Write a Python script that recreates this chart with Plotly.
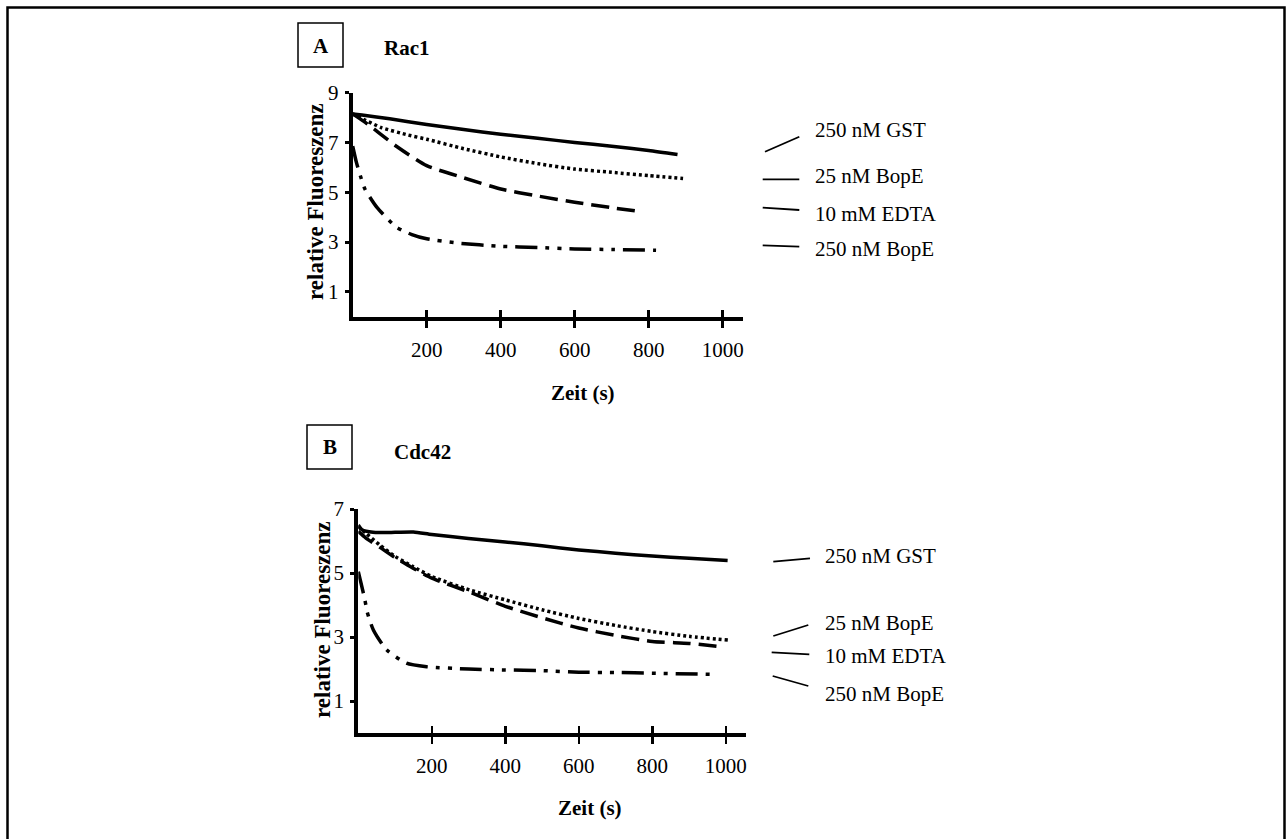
import plotly.graph_objects as go

W, H = 1286, 839
FONT = "Liberation Serif, Times New Roman, serif"

# ---------------- data ----------------
labels = ["250 nM GST", "25 nM BopE", "10 mM EDTA", "250 nM BopE"]
x_ticks = [200, 400, 600, 800, 1000]
yticks_a = [1, 3, 5, 7, 9]
yticks_b = [1, 3, 5, 7]

# Panel A - Rac1
a_gst_x = [0, 25, 100, 200, 300, 400, 500, 600, 700, 800, 878]
a_gst_y = [8.15, 8.1, 7.95, 7.72, 7.52, 7.33, 7.17, 7.0, 6.85, 6.68, 6.52]
a_b25_x = [0, 20, 77, 150, 200, 300, 400, 500, 600, 700, 800, 893]
a_b25_y = [8.15, 8.0, 7.6, 7.3, 7.13, 6.75, 6.42, 6.15, 5.93, 5.8, 5.67, 5.55]
a_edta_x = [0, 30, 70, 118, 200, 300, 400, 500, 600, 700, 765]
a_edta_y = [8.15, 7.85, 7.4, 6.85, 6.07, 5.58, 5.13, 4.85, 4.6, 4.38, 4.25]
a_b250_x = [0, 10, 22, 33, 65, 118, 160, 200, 283, 400, 500, 600, 700, 820]
a_b250_y = [6.85, 6.2, 5.6, 5.13, 4.4, 3.6, 3.3, 3.13, 2.96, 2.83, 2.78, 2.72, 2.7, 2.67]

# Panel B - Cdc42
b_gst_x = [0, 10, 40, 100, 150, 200, 300, 400, 500, 600, 700, 800, 900, 1005]
b_gst_y = [6.5, 6.35, 6.27, 6.27, 6.28, 6.2, 6.08, 5.97, 5.85, 5.72, 5.62, 5.53, 5.46, 5.39]
b_b25_x = [0, 20, 59, 100, 149, 200, 303, 400, 500, 600, 700, 800, 900, 1008]
b_b25_y = [6.45, 6.25, 5.87, 5.52, 5.2, 4.89, 4.47, 4.16, 3.85, 3.58, 3.36, 3.17, 3.02, 2.9]
b_edta_x = [0, 20, 59, 100, 149, 200, 303, 400, 500, 600, 700, 800, 900, 982]
b_edta_y = [6.3, 6.1, 5.8, 5.48, 5.15, 4.84, 4.4, 3.96, 3.6, 3.28, 3.05, 2.86, 2.8, 2.7]
b_b250_x = [0, 5, 18, 24, 41, 77, 131, 186, 300, 400, 500, 600, 700, 800, 968]
b_b250_y = [5.04, 4.8, 4.16, 3.79, 3.22, 2.6, 2.18, 2.07, 2.0, 1.97, 1.95, 1.9, 1.89, 1.87, 1.83]

# ---------------- helpers ----------------
def px(x):
    return x / W

def py(y):
    return 1 - y / H

styles = [
    dict(width=3.5, dash="solid"),
    dict(width=3.5, dash="3px,3px"),
    dict(width=3.5, dash="18px,8px"),
    dict(width=3.5, dash="22px,8px,4px,8px,4px,8px"),
]

fig = go.Figure()

def add_panel(series, xa, ya):
    for (xs, ys), st in zip(series, styles):
        fig.add_trace(go.Scatter(x=xs, y=ys, mode="lines", xaxis=xa, yaxis=ya,
                                 line=dict(color="black", shape="spline",
                                           smoothing=0.6, **st),
                                 showlegend=False, hoverinfo="skip"))

add_panel([(a_gst_x, a_gst_y), (a_b25_x, a_b25_y), (a_edta_x, a_edta_y), (a_b250_x, a_b250_y)], "x", "y")
add_panel([(b_gst_x, b_gst_y), (b_b25_x, b_b25_y), (b_edta_x, b_edta_y), (b_b250_x, b_b250_y)], "x2", "y2")
# empty traces so the overlay tick axes are drawn
fig.add_trace(go.Scatter(x=[], y=[], xaxis="x3", yaxis="y", showlegend=False))
fig.add_trace(go.Scatter(x=[], y=[], xaxis="x4", yaxis="y2", showlegend=False))

tickfont = dict(family=FONT, size=21, color="black")
xr = [0, 1055]

def xaxis(dom, anchor):
    return dict(domain=dom, anchor=anchor, range=xr, showline=True, linewidth=4,
                linecolor="black", ticks="outside", ticklen=7, tickwidth=2.5,
                tickcolor="black", tickvals=x_ticks, tickfont=tickfont,
                showgrid=False, zeroline=False, ticklabelstandoff=4,
                fixedrange=True, automargin=False)

def xover(dom, anchor, over):
    return dict(domain=dom, anchor=anchor, overlaying=over, range=xr, showline=False,
                ticks="inside", ticklen=7, tickwidth=2.5, tickcolor="black",
                tickvals=x_ticks, showticklabels=False, showgrid=False,
                zeroline=False, fixedrange=True, automargin=False)

def yaxis(dom, anchor, rng, tv):
    return dict(domain=dom, anchor=anchor, range=rng, showline=True, linewidth=4,
                linecolor="black", ticks="outside", ticklen=4, tickwidth=3,
                tickcolor="black", tickvals=tv, tickfont=tickfont,
                showgrid=False, zeroline=False, ticklabelstandoff=2,
                fixedrange=True, automargin=False)

domA_x = [px(352.7), px(743)]
domA_y = [py(316.7), py(92.7)]
domB_x = [px(358.3), px(746)]
domB_y = [py(733), py(509)]

fig.update_layout(
    width=W, height=H,
    margin=dict(l=0, r=0, t=0, b=0, pad=0, autoexpand=False),
    paper_bgcolor="white", plot_bgcolor="white",
    xaxis=xaxis(domA_x, "y"),
    yaxis=yaxis(domA_y, "x", [0, 9], yticks_a),
    xaxis2=xaxis(domB_x, "y2"),
    yaxis2=yaxis(domB_y, "x2", [0, 7], yticks_b),
    xaxis3=xover(domA_x, "y", "x"),
    xaxis4=xover(domB_x, "y2", "x2"),
)

shapes = []
# outer frame
shapes.append(dict(type="rect", xref="paper", yref="paper",
                   x0=px(7.5), x1=px(1284.5), y0=py(7.5), y1=py(860),
                   line=dict(color="black", width=2.5)))
# panel letter boxes
shapes.append(dict(type="rect", xref="paper", yref="paper",
                   x0=px(298), x1=px(343), y0=py(23), y1=py(67),
                   line=dict(color="black", width=1.5)))
shapes.append(dict(type="rect", xref="paper", yref="paper",
                   x0=px(307), x1=px(352), y0=py(425), y1=py(469),
                   line=dict(color="black", width=1.5)))

# leader lines next to the labels
leaders_a = [((765, 151.7), (799.3, 136.7)), ((762.7, 179.3), (799.3, 179.3)),
             ((762.7, 207.7), (799.3, 210)), ((762.7, 245.3), (799.3, 246.7))]
leaders_b = [((773.3, 561.7), (810, 558.3)), ((773.3, 636), (808.3, 625)),
             ((771.7, 652.3), (809.3, 654.3)), ((772.7, 676), (808.3, 686))]
for (p0, p1) in leaders_a + leaders_b:
    shapes.append(dict(type="line", xref="paper", yref="paper",
                       x0=px(p0[0]), y0=py(p0[1]), x1=px(p1[0]), y1=py(p1[1]),
                       line=dict(color="black", width=1.8)))
fig.update_layout(shapes=shapes)

ann = []
def text(x, y, s, size=22, bold=False, angle=0, xanchor="center"):
    ann.append(dict(x=px(x), y=py(y), xref="paper", yref="paper", text=(f"<b>{s}</b>" if bold else s),
                    showarrow=False, textangle=angle, xanchor=xanchor, yanchor="middle",
                    font=dict(family=FONT, size=size, color="black")))

text(320.5, 46, "A", size=21, bold=True)
text(407, 48, "Rac1", size=21, bold=True)
text(329.5, 447, "B", size=21, bold=True)
text(422, 452, "Cdc42", size=21, bold=True)
text(315, 202, "relative Fluoreszenz", size=23, bold=True, angle=-90)
text(322, 620, "relative Fluoreszenz", size=23, bold=True, angle=-90)
text(583, 393, "Zeit (s)", size=21, bold=True)
text(590, 808, "Zeit (s)", size=21, bold=True)

label_pos_a = [(812.7, 130), (812.7, 176), (812.7, 214), (812.7, 249)]
label_pos_b = [(823.3, 556), (823.3, 623), (823.3, 656), (823.3, 694)]
for lab, (x, y) in zip(labels, label_pos_a):
    text(x, y, lab, size=21, xanchor="left")
for lab, (x, y) in zip(labels, label_pos_b):
    text(x, y, lab, size=21, xanchor="left")
fig.update_layout(annotations=ann)

fig.write_html("out.html",
               config={"displayModeBar": False, "staticPlot": True},
               post_script="document.body.style.margin='0';document.body.style.padding='0';"
                           "document.documentElement.style.overflow='hidden';"
                           "document.body.style.overflow='hidden';")
